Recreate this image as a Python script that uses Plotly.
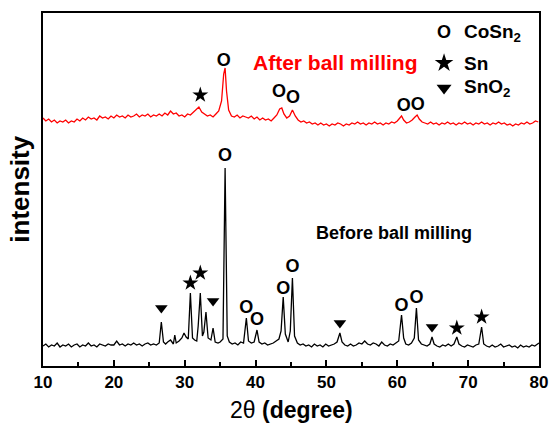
import plotly.graph_objects as go

# ---------------- data (2theta, intensity in arbitrary offset units) ----------------
before_x = [10.0,10.4,10.8,11.2,11.6,12.0,12.4,12.8,13.2,13.6,14.0,14.4,14.8,15.2,15.6,16.0,16.4,16.8,17.2,17.6,
            18.0,18.4,18.8,19.2,19.6,20.0,20.4,20.8,21.2,21.6,22.0,22.4,22.8,23.2,23.6,24.0,24.4,24.8,25.2,25.6,
            26.0,26.4,26.7,27.0,27.3,27.6,28.0,28.4,28.6,28.8,29.2,29.6,29.9,30.2,30.5,30.8,31.1,31.4,31.7,31.9,
            32.2,32.5,32.7,33.0,33.3,33.7,34.0,34.3,34.7,35.0,35.4,35.7,36.0,36.3,36.7,37.1,37.5,37.9,38.3,38.7,
            39.0,39.4,39.8,40.2,40.5,40.9,41.3,41.7,42.1,42.5,42.9,43.3,43.6,43.9,44.2,44.6,44.9,45.2,45.5,45.9,
            46.3,46.7,47.1,47.5,47.9,48.3,48.7,49.1,49.5,49.9,50.3,50.7,51.1,51.5,51.9,52.2,52.6,53.0,53.4,53.8,
            54.2,54.6,55.0,55.4,55.8,56.2,56.6,57.0,57.4,57.8,58.2,58.6,59.0,59.4,59.8,60.2,60.6,60.9,61.2,61.6,
            62.0,62.4,62.7,63.0,63.4,63.8,64.2,64.6,64.9,65.2,65.6,66.0,66.4,66.8,67.2,67.6,68.0,68.4,68.7,69.1,
            69.5,69.9,70.3,70.7,71.1,71.5,71.9,72.2,72.6,73.0,73.4,73.8,74.2,74.6,75.0,75.4,75.8,76.2,76.6,77.0,
            77.4,77.8,78.2,78.6,79.0,79.4,79.8,80.0]
before_y = [20,22,19,21,20,23,19,21,20,22,19,21,22,19,21,20,23,20,21,19,
            22,21,20,22,21,21,25,21,22,20,22,21,23,21,22,20,22,23,21,22,
            21,23,44,24,22,24,26,22,31,23,25,28,33,29,27,73,28,26,25,40,
            73,30,34,54,28,26,38,24,23,24,27,198,30,24,22,23,21,24,23,48,
            25,23,24,36,24,22,23,21,22,23,25,27,35,69,32,24,35,88,30,23,
            21,22,20,21,19,22,20,21,19,22,20,21,22,24,33,24,21,20,22,20,
            21,23,22,25,22,21,23,22,20,24,21,20,22,21,23,25,51,28,22,21,
            23,28,58,26,22,21,20,22,29,22,20,19,21,20,22,20,22,29,22,20,
            19,21,20,19,21,22,39,22,20,19,21,19,20,22,19,20,21,19,20,18,
            21,19,20,19,21,20,22,23]

after_x = [10.0,10.4,10.8,11.2,11.6,12.0,12.4,12.8,13.2,13.6,14.0,14.4,14.8,15.2,15.6,16.0,16.4,16.8,17.2,17.6,
           18.0,18.4,18.8,19.2,19.6,20.0,20.4,20.8,21.2,21.6,22.0,22.4,22.8,23.2,23.6,24.0,24.4,24.8,25.2,25.6,
           26.0,26.4,26.8,27.2,27.6,28.0,28.4,28.8,29.2,29.6,30.0,30.4,30.8,31.2,31.6,32.0,32.4,32.8,33.2,33.6,
           34.0,34.4,34.8,35.2,35.5,35.7,35.9,36.2,36.6,37.0,37.4,37.8,38.2,38.6,39.0,39.4,39.8,40.2,40.6,41.0,
           41.4,41.8,42.2,42.6,43.0,43.4,43.7,44.0,44.4,44.8,45.2,45.6,46.0,46.4,46.8,47.2,47.6,48.0,48.4,48.8,
           49.2,49.6,50.0,50.4,50.8,51.2,51.6,52.0,52.4,52.8,53.2,53.6,54.0,54.4,54.8,55.2,55.6,56.0,56.4,56.8,
           57.2,57.6,58.0,58.4,58.8,59.2,59.6,60.0,60.3,60.6,60.9,61.3,61.7,62.1,62.5,62.8,63.1,63.5,63.9,64.3,
           64.7,65.1,65.5,65.9,66.3,66.7,67.1,67.5,67.9,68.3,68.7,69.1,69.5,69.9,70.3,70.7,71.1,71.5,71.9,72.3,
           72.7,73.1,73.5,73.9,74.3,74.7,75.1,75.5,75.9,76.3,76.7,77.1,77.5,77.9,78.3,78.7,79.1,79.5,79.9]
after_y = [248,245,247,244,246,243,245,244,246,243,245,244,247,245,248,246,249,247,248,246,
           250,248,249,247,250,248,251,249,250,248,251,249,250,252,249,251,250,252,249,251,
           250,252,250,253,251,255,252,253,250,251,249,252,251,254,256,259,254,252,250,251,
           249,252,255,265,292,298,275,256,250,249,251,248,250,249,248,250,247,249,246,248,
           246,247,245,248,251,257,258,252,248,250,256,250,246,244,245,243,244,242,243,241,
           243,241,242,240,242,241,243,242,240,242,241,243,242,244,242,243,241,243,242,244,
           242,243,241,243,242,244,243,245,247,250,246,243,244,246,249,251,247,244,243,242,
           244,242,243,241,243,242,244,242,243,241,243,242,244,242,243,241,243,242,244,242,
           243,241,243,242,244,242,243,241,242,240,242,241,243,242,244,242,243,245,244]

# phase marks: peak positions and label heights
b_cosn2_x = [35.7, 38.7, 40.2, 43.9, 45.2, 60.6, 62.7]
b_cosn2_y = [210, 58, 46, 77, 99, 60, 68]
b_sn_x = [30.8, 32.2, 68.4, 71.9]
b_sn_y = [83, 93, 38, 49]
b_sno2_x = [26.7, 34.0, 51.9, 64.9]
b_sno2_y = [58, 65, 43, 39]

a_cosn2_x = [35.5, 43.3, 45.3, 60.9, 62.9]
a_cosn2_y = [305, 274, 268, 260, 261]
a_sn_x = [32.2]
a_sn_y = [271]

phase_names = ["CoSn<sub>2</sub>", "Sn", "SnO<sub>2</sub>"]
x_ticks = [10, 20, 30, 40, 50, 60, 70, 80]

FONT = "Liberation Sans, Arial, sans-serif"

fig = go.Figure()
fig.add_trace(go.Scatter(x=after_x, y=after_y, mode="lines",
                         line=dict(color="#ff0000", width=1.3), hoverinfo="skip"))
fig.add_trace(go.Scatter(x=before_x, y=before_y, mode="lines",
                         line=dict(color="#000000", width=1.3), hoverinfo="skip"))

def o_marks(xs, ys):
    fig.add_trace(go.Scatter(x=xs, y=ys, mode="text", text=["<b>O</b>"] * len(xs),
                             textfont=dict(family=FONT, size=18, color="black"),
                             textposition="middle center", hoverinfo="skip"))

def sym_marks(xs, ys, symbol, size):
    fig.add_trace(go.Scatter(x=xs, y=ys, mode="markers",
                             marker=dict(symbol=symbol, size=size, color="black", line=dict(width=0)),
                             hoverinfo="skip"))

o_marks(b_cosn2_x, b_cosn2_y)
o_marks(a_cosn2_x, a_cosn2_y)
sym_marks(b_sn_x, b_sn_y, "star", 12)
sym_marks(a_sn_x, a_sn_y, "star", 12)
sym_marks(b_sno2_x, b_sno2_y, "triangle-down", 11)

# legend (manual, top right)
leg_x = 66.6
leg_tx = 69.2
leg_y = [333, 303, 278]
o_marks([leg_x], [leg_y[0]])
sym_marks([leg_x], [leg_y[1]], "star", 14)
sym_marks([leg_x], [leg_y[2]], "triangle-down", 13)
for name, yy in zip(phase_names, leg_y):
    fig.add_annotation(x=leg_tx, y=yy, text="<b>" + name + "</b>", showarrow=False,
                       xanchor="left", yanchor="middle",
                       font=dict(family=FONT, size=19, color="black"))

fig.add_annotation(x=51.3, y=304, text="<b>After ball milling</b>", showarrow=False,
                   font=dict(family=FONT, size=21, color="#ff0000"))
fig.add_annotation(x=59.6, y=133, text="<b>Before ball milling</b>", showarrow=False,
                   font=dict(family=FONT, size=18, color="black"))

# axis titles
fig.add_annotation(xref="paper", yref="paper", x=0.5, y=-0.125, yanchor="middle",
                   text="2θ <b>(degree)</b>", showarrow=False,
                   font=dict(family=FONT, size=23, color="black"))
fig.add_annotation(xref="paper", yref="paper", x=-0.048, y=0.5, xanchor="center",
                   text="<b>intensity</b>", textangle=-90, showarrow=False,
                   font=dict(family=FONT, size=26, color="black"))

fig.update_layout(
    width=551, height=424,
    margin=dict(l=43, r=12, t=13, b=58, autoexpand=False),
    paper_bgcolor="white", plot_bgcolor="white",
    showlegend=False,
    font=dict(family=FONT, color="black"),
)
fig.update_xaxes(range=[10, 80], tickvals=x_ticks, ticks="inside", ticklen=6, tickwidth=1.5,
                 tickcolor="black", showline=True, linewidth=2, linecolor="black", mirror=True,
                 showgrid=False, zeroline=False, automargin=False,
                 tickfont=dict(family=FONT, size=17, color="black", weight="bold"),
                 minor=dict(tickvals=[15, 25, 35, 45, 55, 65, 75], ticks="inside", ticklen=4,
                            tickwidth=1.5, tickcolor="black"))
fig.update_yaxes(range=[0, 353], showticklabels=False, ticks="", showline=True, linewidth=2,
                 linecolor="black", mirror=True, showgrid=False, zeroline=False, automargin=False)

fig.write_html("out.html", config={"displayModeBar": False},
               post_script="document.body.style.margin='0';document.body.style.overflow='hidden';")
